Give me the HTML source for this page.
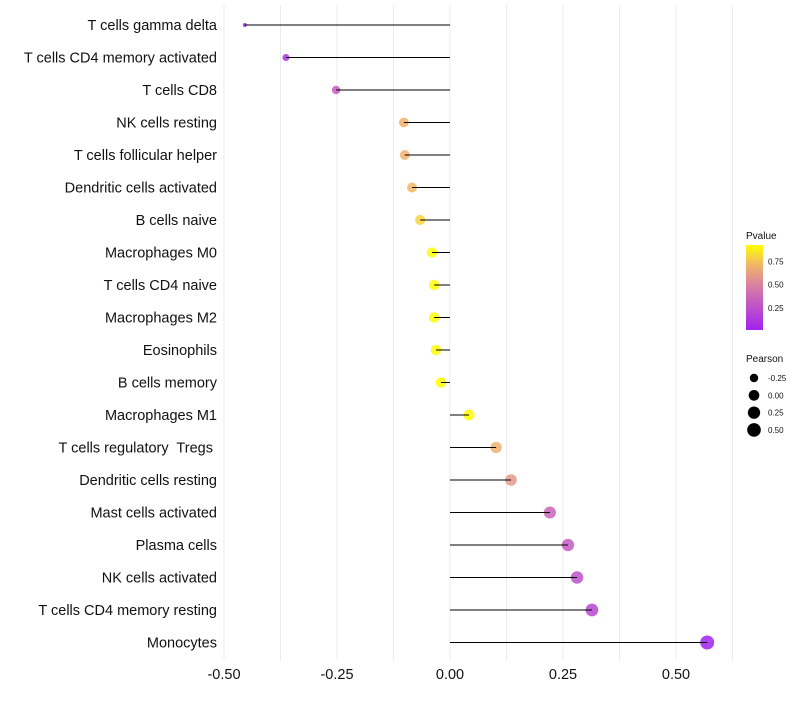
<!DOCTYPE html>
<html><head><meta charset="utf-8"><style>
body{margin:0;background:#fff;font-family:"Liberation Sans",sans-serif}
svg text{font-family:"Liberation Sans",sans-serif;white-space:pre}
</style></head><body>
<svg id="c" width="800" height="700"></svg>
<script>
const categories=["T cells gamma delta","T cells CD4 memory activated","T cells CD8","NK cells resting","T cells follicular helper","Dendritic cells activated","B cells naive","Macrophages M0","T cells CD4 naive","Macrophages M2","Eosinophils","B cells memory","Macrophages M1","T cells regulatory  Tregs ","Dendritic cells resting","Mast cells activated","Plasma cells","NK cells activated","T cells CD4 memory resting","Monocytes"];
const pearson=[-0.454,-0.363,-0.252,-0.102,-0.100,-0.084,-0.066,-0.040,-0.035,-0.035,-0.031,-0.020,0.042,0.102,0.135,0.221,0.261,0.281,0.314,0.569];
const pvalue=[0.05,0.1,0.3,0.7,0.7,0.72,0.8,0.92,0.92,0.92,0.92,0.95,0.92,0.7,0.6,0.35,0.3,0.25,0.2,0.01];
const xTicks=[-0.5,-0.25,0,0.25,0.5];
const xTickLabels=["-0.50","-0.25","0.00","0.25","0.50"];
const legP=[0.75,0.5,0.25];
const legS=[-0.25,0,0.25,0.5];
const NS="http://www.w3.org/2000/svg",svg=document.getElementById('c');
function mk(t,a,p){const e=document.createElementNS(NS,t);for(const k in a)e.setAttribute(k,a[k]);(p||svg).appendChild(e);return e;}
const x=v=>450+v*452, y=i=>25+i*32.5;
const rS=v=>{const t=Math.max(0,(v+0.454)/1.023);return 2+5*Math.sqrt(t);};
const stops=[[0,[160,32,240]],[0.5,[214,122,168]],[0.75,[240,176,112]],[1,[255,255,0]]];
function col(p){p=Math.min(Math.max(p/0.93,0),1);for(let i=1;i<stops.length;i++){if(p<=stops[i][0]){const a=stops[i-1],b=stops[i],t=(p-a[0])/(b[0]-a[0]);return 'rgb('+a[1].map((c,j)=>Math.round(c+(b[1][j]-c)*t)).join(',')+')';}}return 'rgb(255,255,0)';}
const g=mk('g',{});


for(let v=-0.5;v<=0.626;v+=0.125){mk('line',{x1:x(v),x2:x(v),y1:5,y2:660,stroke:'#ebebeb','stroke-width':1},g);}
categories.forEach((c,i)=>{
 const l=mk('text',{x:217,y:y(i)+5,'text-anchor':'end','font-size':14.5,fill:'#111'});l.textContent=c;
 
 
 const d=mk('circle',{cx:x(pearson[i]),cy:y(i),r:rS(pearson[i]),fill:col(pvalue[i]),'fill-opacity':0.85});
 
 
 const s=mk('line',{x1:x(0),x2:x(pearson[i]),y1:y(i),y2:y(i),stroke:'#000','stroke-width':1});
 
 
});
xTicks.forEach((v,i)=>{const t=mk('text',{x:x(v),y:679,'text-anchor':'middle','font-size':14.5,fill:'#111'});t.textContent=xTickLabels[i];
 
 });
const defs=mk('defs',{});const lg=mk('linearGradient',{id:'pg',x1:0,y1:1,x2:0,y2:0},defs);
for(let k=0;k<=10;k++){mk('stop',{offset:k/10,'stop-color':col(0.01+k/10*0.92)},lg);}
const t1=mk('text',{x:746,y:239,'font-size':10,fill:'#111'});t1.textContent='Pvalue';


const bar=mk('rect',{x:746,y:245,width:17,height:85,fill:'url(#pg)'});


const py=p=>330-(p-0.01)/0.92*85;
legP.forEach(p=>{const t=mk('text',{x:768,y:py(p)+3,'font-size':8,fill:'#111'});t.textContent=p.toFixed(2);
 
 });
const t2=mk('text',{x:746,y:362,'font-size':10,fill:'#111'});t2.textContent='Pearson';


legS.forEach((v,i)=>{const cy=378+i*17.3;
 const c=mk('circle',{cx:754,cy:cy,r:rS(v),fill:'#000'});
 
 
 const t=mk('text',{x:768,y:cy+3,'font-size':8,fill:'#111'});t.textContent=v.toFixed(2);
 
 });
</script>
</body></html>
